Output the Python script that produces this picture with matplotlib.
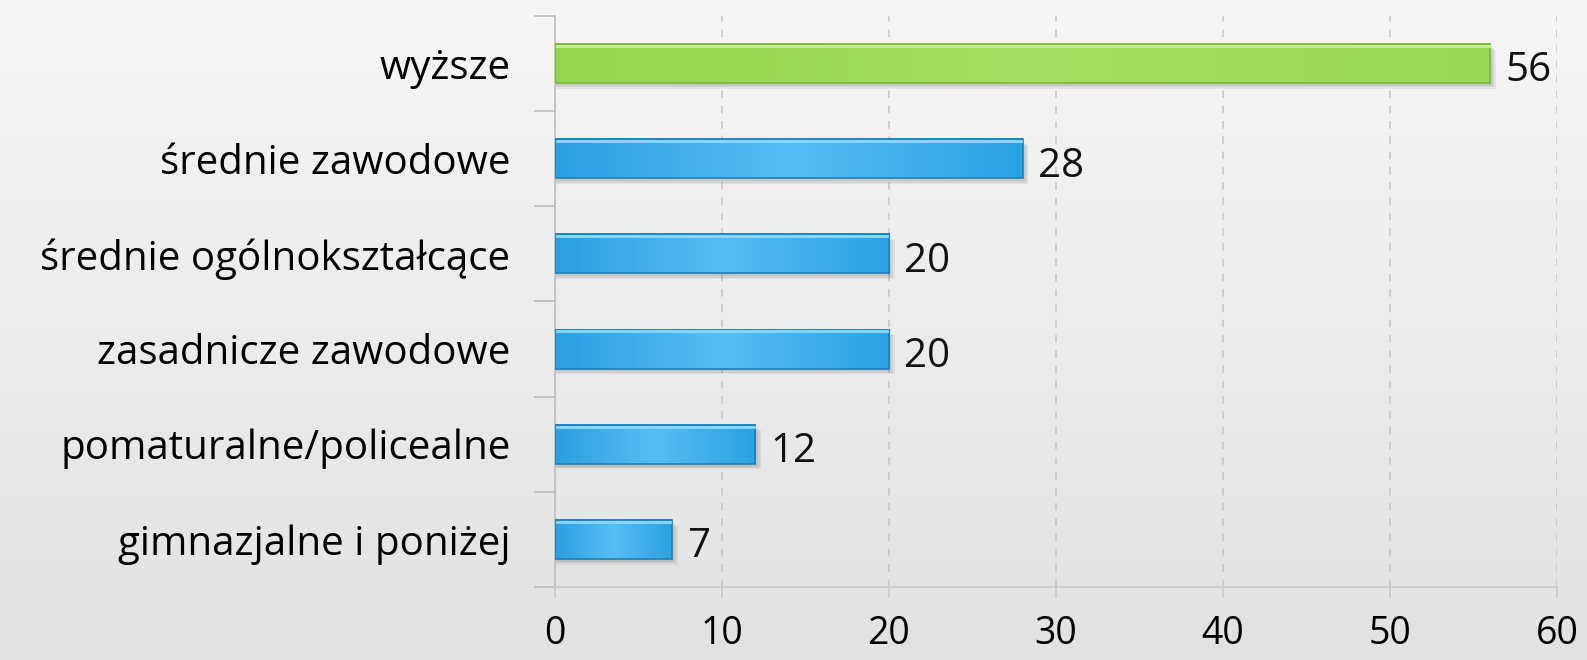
import numpy as np
import matplotlib.pyplot as plt
from matplotlib.colors import LinearSegmentedColormap

# dane
categories = ['wyższe', 'średnie zawodowe', 'średnie ogólnokształcące',
              'zasadnicze zawodowe', 'pomaturalne/policealne', 'gimnazjalne i poniżej']
values = [56, 28, 20, 20, 12, 7]
bar_colors = ['green', 'blue', 'blue', 'blue', 'blue', 'blue']
xticks = [0, 10, 20, 30, 40, 50, 60]

plt.rcParams['font.family'] = ['Open Sans', 'DejaVu Sans']

fig = plt.figure(figsize=(15.87, 6.6), dpi=100)

# tło z gradientem
bg = fig.add_axes([0, 0, 1, 1], zorder=-10)
grad = np.linspace(0, 1, 256).reshape(-1, 1)
bg_cmap = LinearSegmentedColormap.from_list('bg', ['#f6f6f6', '#e2e2e2'])
bg.imshow(grad, aspect='auto', cmap=bg_cmap, extent=[0, 1, 0, 1])
bg.axis('off')

ax = fig.add_axes([0.3497, 0.1106, 0.6314, 0.8652])
ax.patch.set_alpha(0)

cmaps = {
    'green': LinearSegmentedColormap.from_list('g', ['#93d64e', '#a4de62', '#9ad957']),
    'blue': LinearSegmentedColormap.from_list('b', ['#2b9fe0', '#58bdf5', '#2aa2e2']),
}
edge = {'green': '#7fb546', 'blue': '#1e7fb8'}
top_hl = {'green': '#c8f08e', 'blue': '#8ad8fb'}

n = len(categories)
ypos = np.arange(n)[::-1]
h = 0.41
row = np.linspace(0, 1, 256).reshape(1, -1)
for y, v, c in zip(ypos, values, bar_colors):
    # miękki cień pod słupkiem
    for k, a in enumerate([0.06, 0.06, 0.06]):
        ax.barh(y - 0.03 - 0.015 * k, v + 0.1 + 0.1 * k, height=h, left=0.05,
                color='#000000', alpha=a, zorder=2, linewidth=0)
    ax.imshow(row, aspect='auto', cmap=cmaps[c],
              extent=[0, v, y - h / 2, y + h / 2], zorder=3)
    ax.barh(y, v, height=h, facecolor='none', edgecolor=edge[c], linewidth=1.2, zorder=4)
    ax.plot([0.1, v - 0.1], [y + h / 2 - 0.02] * 2, color=top_hl[c], lw=2, zorder=4)
    ax.text(v + 0.9, y - 0.08, str(v), va='center', ha='left', fontsize=29, color='#111111')

ax.set_xlim(0, 60)
ax.set_ylim(-0.5, n - 0.5)
ax.set_xticks(xticks)
ax.set_xticklabels([str(t) for t in xticks], fontsize=27)
ax.set_yticks(ypos)
ax.set_yticklabels(categories, fontsize=29)
ax.set_yticks(np.arange(-0.5, n), minor=True)
ax.tick_params(axis='y', which='major', length=0, pad=32)
ax.tick_params(axis='y', which='minor', length=15, color='#bdbdbd', width=1.2)
ax.tick_params(axis='x', length=8, color='#c8c8c8', width=1.2, pad=12)

ax.grid(axis='x', linestyle=(0, (5, 5)), color='#c4c4c4', linewidth=1.1, zorder=0)
ax.set_axisbelow(True)
for s in ['top', 'right']:
    ax.spines[s].set_visible(False)
ax.spines['left'].set_color('#bdbdbd')
ax.spines['bottom'].set_color('#c8c8c8')
ax.spines['left'].set_linewidth(1.2)
ax.spines['bottom'].set_linewidth(1.2)

fig.savefig('out.png', dpi=100)
